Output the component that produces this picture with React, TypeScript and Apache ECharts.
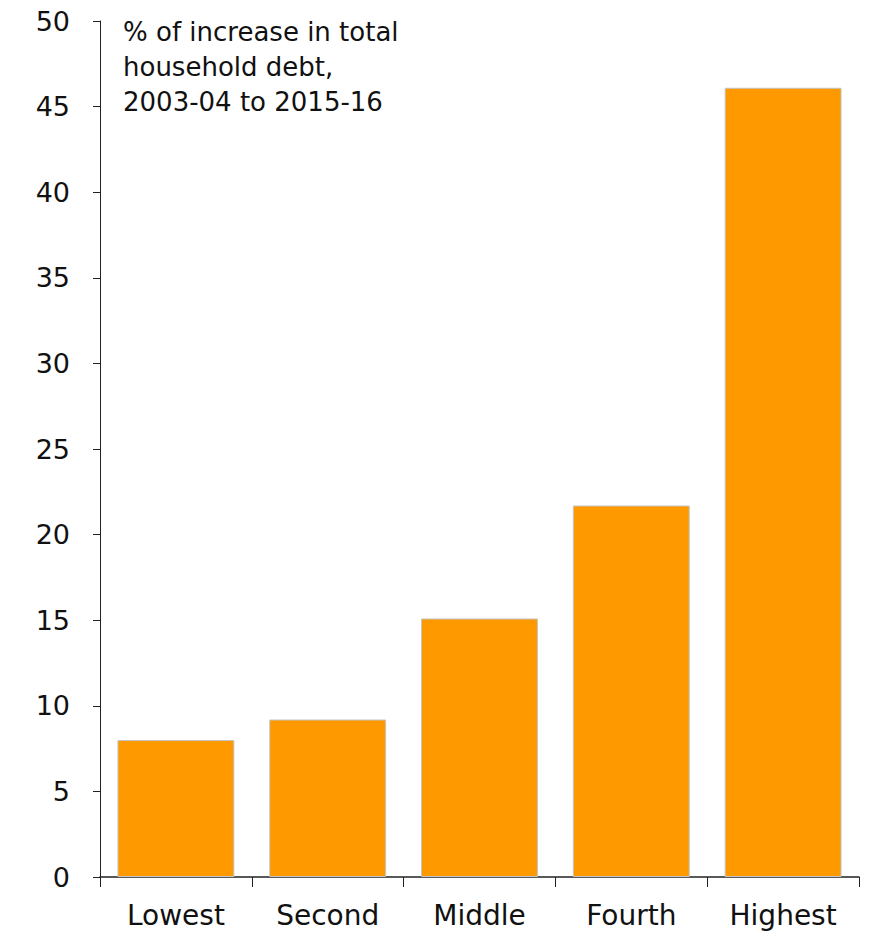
import React, { useEffect, useRef } from "react";
import * as echarts from "echarts";

const categories = ["Lowest", "Second", "Middle", "Fourth", "Highest"];
const values = [8.0, 9.2, 15.1, 21.7, 46.1];
const annotationLines = ["% of increase in total", "household debt,", "2003-04 to 2015-16"];

const FONT = "'DejaVu Sans', 'Liberation Sans', sans-serif";

export default function App() {
  const ref = useRef<HTMLDivElement>(null);
  useEffect(() => {
    if (!ref.current) return;
    const chart = echarts.init(ref.current, undefined, { renderer: "svg" });
    chart.setOption({
      animation: false,
      backgroundColor: "#ffffff",
      grid: { left: 100, right: 10, top: 21, bottom: 58, containLabel: false },
      xAxis: {
        type: "category",
        data: categories,
        axisLine: { show: true, lineStyle: { color: "#222", width: 1.5 } },
        axisTick: { show: true, alignWithLabel: false, length: 10, lineStyle: { color: "#222" } },
        axisLabel: { color: "#111", fontSize: 28, fontFamily: FONT, margin: 24 },
        splitLine: { show: false },
      },
      yAxis: {
        type: "value",
        min: 0,
        max: 50,
        interval: 5,
        axisLine: { show: true, lineStyle: { color: "#222", width: 1 } },
        axisTick: { show: true, inside: false, length: 7, lineStyle: { color: "#222" } },
        axisLabel: { color: "#111", fontSize: 27, fontFamily: FONT, margin: 30 },
        splitLine: { show: false },
      },
      series: [
        {
          type: "bar",
          data: values,
          barCategoryGap: "23%",
          itemStyle: { color: "#FF9900", borderColor: "#C4C4C4", borderWidth: 1 },
        },
      ],
      graphic: [
        {
          type: "text",
          left: 123,
          top: 14,
          style: {
            text: annotationLines.join("\n"),
            font: `26px ${FONT}`,
            fill: "#111",
            lineHeight: 35,
          },
        },
      ],
    });
    return () => chart.dispose();
  }, []);
  return <div ref={ref} style={{ width: 869, height: 935, position: "absolute", left: 0, top: 0 }} />;
}
